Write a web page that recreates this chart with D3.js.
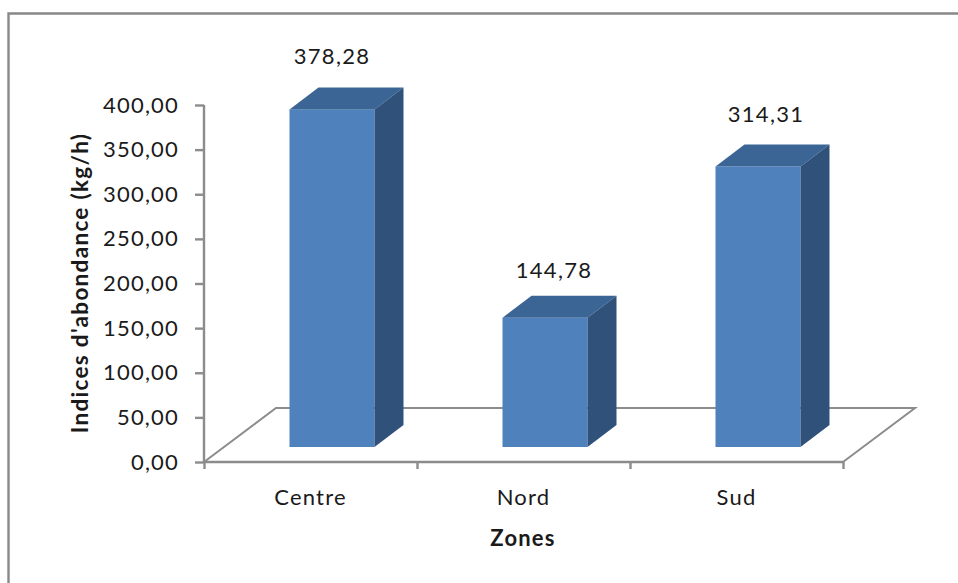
<!DOCTYPE html>
<html><head><meta charset="utf-8">
<script src="https://cdn.jsdelivr.net/npm/d3@7"></script>
<style>html,body{margin:0;padding:0;background:#fff}svg{display:block}text{font-family:Lato,"Open Sans",sans-serif;fill:#1a1a1a}</style>
</head><body><svg id="c" width="958" height="583"></svg>
<script>
const categories = ["Centre","Nord","Sud"];
const values = [378.28,144.78,314.31];
const valueLabels = ["378,28","144,78","314,31"];
const yTicks = [0,50,100,150,200,250,300,350,400];
const yTitle = "Indices d'abondance (kg/h)";
const xTitle = "Zones";

const svg = d3.select("#c");
const fr = d3.format(".2f");
const y = d3.scaleLinear().domain([0,400]).range([462,105]);
const x = d3.scaleBand().domain(categories).range([204,843]);
const floorDx = 72, floorDy = -54;
const barW = 85, barOffX = 21.5, barOffY = -15, depthX = 29, depthY = -22;
const axisC = "#8c8c8c";
const labelShift = {Centre:[0,-45], Nord:[9,-40], Sud:[8,-44]};

svg.append("path").attr("d","M8.5,583V13.5H958").attr("fill","none").attr("stroke","#888").attr("stroke-width",2.4);

const x0=204, x1=843, y0=y(0);
svg.append("path").attr("d",`M${x0},${y0}L${x0+floorDx},${y0+floorDy}L${x1+floorDx},${y0+floorDy}L${x1},${y0}`)
  .attr("fill","none").attr("stroke",axisC).attr("stroke-width",2);

const yAxis = d3.axisLeft(y).tickValues(yTicks).tickFormat(v=>fr(v).replace(".",",")).tickSize(9).tickPadding(16);
const gy = svg.append("g").attr("transform",`translate(${x0},0)`).call(yAxis);
gy.selectAll("text").attr("font-size",22).attr("letter-spacing",1.2).style("fill","#1a1a1a");
const xAxisScale = d3.scalePoint().domain(d3.range(4)).range([x0,x1]);
const gx = svg.append("g").attr("transform",`translate(0,${y0})`).call(d3.axisBottom(xAxisScale).tickFormat("").tickSize(7));
[gy,gx].forEach(g=>{g.selectAll("path.domain").attr("stroke",axisC).attr("stroke-width",2.4);g.selectAll("line").attr("stroke",axisC).attr("stroke-width",2.4);});
gy.select("path.domain").attr("d",`M0,${y(400)}V${y0}`);
gx.select("path.domain").attr("d",`M${x0},0H${x1}`);

const bars = svg.selectAll("g.bar").data(categories.map((c,i)=>({c,v:values[i],l:valueLabels[i]}))).join("g").attr("class","bar");
const barLeft = d=>x(d.c)+ (x.bandwidth()-barW)/2 + barOffX;
const bot = y0+barOffY;
const barTop = d=>bot-(y0-y(d.v));
bars.append("rect").attr("x",barLeft).attr("y",barTop).attr("width",barW).attr("height",d=>bot-barTop(d)).attr("fill","#4f81bd");
bars.append("path").attr("fill","#3b6595").attr("d",d=>`M${barLeft(d)},${barTop(d)}l${depthX},${depthY}h${barW}l${-depthX},${-depthY}z`);
bars.append("path").attr("fill","#30527a").attr("d",d=>`M${barLeft(d)+barW},${barTop(d)}l${depthX},${depthY}V${bot+depthY}l${-depthX},${-depthY}z`);
bars.append("text").attr("x",d=>barLeft(d)+barW/2+labelShift[d.c][0]).attr("y",d=>barTop(d)+labelShift[d.c][1]).attr("text-anchor","middle").attr("font-size",22).attr("letter-spacing",1.3).text(d=>d.l);

svg.selectAll("text.cat").data(categories).join("text").attr("class","cat")
 .attr("x",c=>x(c)+x.bandwidth()/2).attr("y",505).attr("text-anchor","middle").attr("font-size",22).attr("letter-spacing",1.2).text(c=>c);

svg.append("text").attr("x",523).attr("y",546).attr("text-anchor","middle").attr("font-size",22).attr("font-weight",700).attr("letter-spacing",1.2).text(xTitle);
svg.append("text").attr("transform","translate(88,283) rotate(-90)").attr("text-anchor","middle").attr("font-size",22.5).attr("font-weight",700).attr("letter-spacing",1.3).text(yTitle);
</script></body></html>
